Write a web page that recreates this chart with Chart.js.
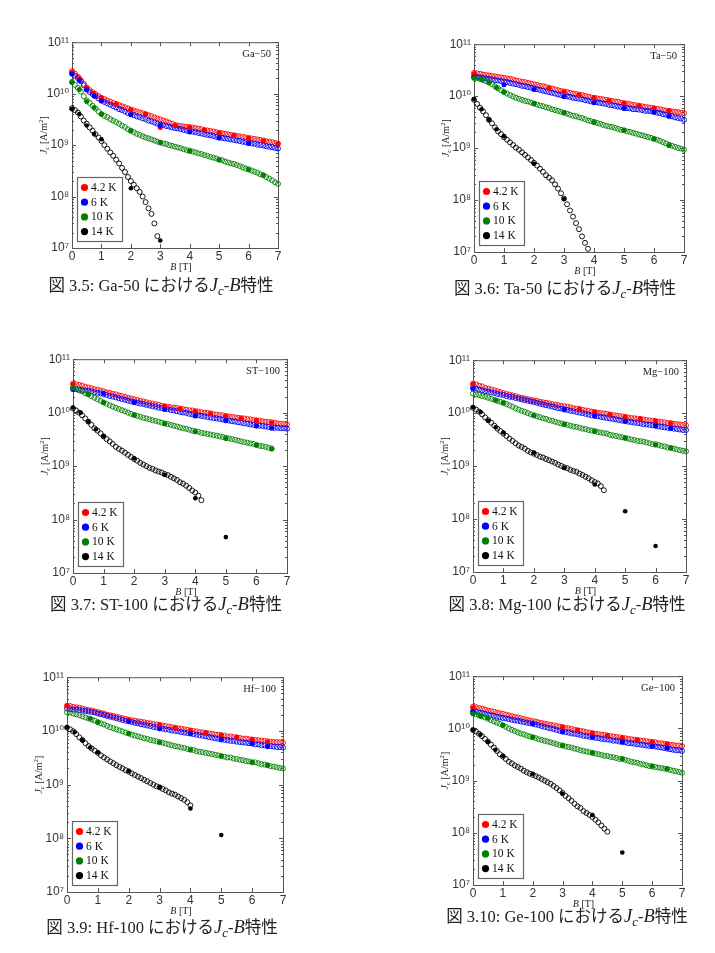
<!DOCTYPE html>
<html>
<head>
<meta charset="utf-8">
<script src="https://cdn.jsdelivr.net/npm/chart.js"></script>
<style>
  body { margin: 0; background: #fff; width: 715px; height: 953px; position: relative; overflow: hidden; }
  canvas { position: absolute; }
  .cap {
    position: absolute; white-space: nowrap; line-height: 1; color: #222;
    font-family: "Liberation Serif", "Noto Sans CJK JP", serif; font-size: 16.5px;
    transform: translate(-50%, -50%);
  }
  .cap i { font-size: 1.12em; }
  .cap sub { font-style: italic; font-size: 0.78em; vertical-align: -0.28em; }
</style>
</head>
<body>
<script>
// field values (T): open circles every 0.1 T, filled dots on a coarse grid
const fieldsFine = [0,0.1,0.2,0.3,0.4,0.5,0.6,0.7,0.8,0.9,1,1.1,1.2,1.3,1.4,1.5,1.6,1.7,1.8,1.9,2,2.1,2.2,2.3,2.4,2.5,2.6,2.7,2.8,2.9,3,3.1,3.2,3.3,3.4,3.5,3.6,3.7,3.8,3.9,4,4.1,4.2,4.3,4.4,4.5,4.6,4.7,4.8,4.9,5,5.1,5.2,5.3,5.4,5.5,5.6,5.7,5.8,5.9,6,6.1,6.2,6.3,6.4,6.5,6.6,6.7,6.8,6.9,7];
const fieldsCoarse = [0,0.25,0.5,0.75,1,1.5,2,2.5,3,3.5,4,4.5,5,5.5,6,6.5,7];

const temperatures = ['4.2 K', '6 K', '10 K', '14 K'];
const sampleNames = ['Ga-50', 'Ta-50', 'ST-100', 'Mg-100', 'Hf-100', 'Ge-100'];
const panelLabels = ['Ga\u221250', 'Ta\u221250', 'ST\u2212100', 'Mg\u2212100', 'Hf\u2212100', 'Ge\u2212100'];
const figureNumbers = ['3.5', '3.6', '3.7', '3.8', '3.9', '3.10'];

const xTickValues = [0, 1, 2, 3, 4, 5, 6, 7];
const yTickValues = [1e7, 1e8, 1e9, 1e10, 1e11];
const yTickLabels = ['10\u2077', '10\u2078', '10\u2079', '10\u00b9\u2070', '10\u00b9\u00b9'];

// Ga-50
const ga50Open42 = [2.75e10,2.45e10,2.14e10,1.82e10,1.55e10,1.32e10,1.17e10,1.07e10,9.8e9,9.0e9,8.3e9,7.85e9,7.4e9,7.0e9,6.6e9,6.3e9,6.0e9,5.7e9,5.45e9,5.15e9,4.9e9,4.7e9,4.5e9,4.3e9,4.15e9,4.0e9,3.8e9,3.65e9,3.45e9,3.3e9,3.15e9,3.0e9,2.9e9,2.75e9,2.6e9,2.45e9,2.4e9,2.35e9,2.3e9,2.27e9,2.24e9,2.19e9,2.14e9,2.09e9,2.04e9,1.97e9,1.93e9,1.88e9,1.84e9,1.78e9,1.74e9,1.7e9,1.66e9,1.62e9,1.58e9,1.55e9,1.51e9,1.48e9,1.45e9,1.41e9,1.38e9,1.35e9,1.32e9,1.29e9,1.26e9,1.23e9,1.19e9,1.16e9,1.14e9,1.1e9,1.07e9];
const ga50Open6 = [2.45e10,2.24e10,2.0e10,1.74e10,1.45e10,1.2e10,1.07e10,9.8e9,8.9e9,8.1e9,7.4e9,6.9e9,6.5e9,6.1e9,5.7e9,5.4e9,5.0e9,4.8e9,4.5e9,4.2e9,4.0e9,3.8e9,3.6e9,3.5e9,3.3e9,3.2e9,3.0e9,2.9e9,2.75e9,2.6e9,2.5e9,2.45e9,2.35e9,2.3e9,2.2e9,2.15e9,2.1e9,2.05e9,1.97e9,1.9e9,1.86e9,1.82e9,1.78e9,1.72e9,1.68e9,1.62e9,1.58e9,1.55e9,1.5e9,1.45e9,1.41e9,1.38e9,1.35e9,1.32e9,1.29e9,1.26e9,1.23e9,1.2e9,1.16e9,1.14e9,1.11e9,1.08e9,1.06e9,1.02e9,1.0e9,9.8e8,9.5e8,9.3e8,9.1e8,8.8e8,8.6e8];
const ga50Open10 = [1.7e10,1.48e10,1.29e10,1.1e10,8.9e9,7.4e9,6.6e9,5.8e9,5.1e9,4.5e9,4.0e9,3.7e9,3.5e9,3.2e9,3.0e9,2.8e9,2.6e9,2.4e9,2.24e9,2.04e9,1.9e9,1.78e9,1.66e9,1.58e9,1.48e9,1.41e9,1.35e9,1.29e9,1.23e9,1.17e9,1.12e9,1.08e9,1.05e9,1.0e9,9.7e8,9.3e8,9.0e8,8.7e8,8.3e8,8.0e8,7.8e8,7.5e8,7.2e8,6.9e8,6.7e8,6.4e8,6.2e8,5.9e8,5.7e8,5.5e8,5.2e8,5.1e8,4.8e8,4.6e8,4.4e8,4.3e8,4.1e8,3.9e8,3.7e8,3.5e8,3.4e8,3.2e8,3.05e8,2.9e8,2.7e8,2.6e8,2.4e8,2.24e8,2.07e8,1.9e8,1.76e8];
const ga50Open14 = [5.2e9,4.8e9,4.3e9,3.6e9,3.0e9,2.6e9,2.2e9,1.9e9,1.62e9,1.41e9,1.2e9,1.0e9,8.5e8,7.2e8,6.2e8,5.2e8,4.4e8,3.6e8,3.0e8,2.4e8,2.0e8,1.7e8,1.45e8,1.23e8,1.0e8,7.8e7,5.9e7,4.6e7,3.0e7,1.7e7];
const ga50Dot42 = [2.6e10,2.0e10,1.3e10,1.0e10,8.3e9,6.2e9,4.8e9,4.0e9,2.2e9,2.4e9,2.2e9,1.95e9,1.72e9,1.53e9,1.36e9,1.2e9,1.07e9];
const ga50Dot6 = [2.4e10,1.8e10,1.2e10,9.0e9,7.2e9,null,3.9e9,null,2.4e9,null,1.8e9,null,1.38e9,null,1.08e9,null,null];
const ga50Dot10 = [1.65e10,1.2e10,7.0e9,5.4e9,4.0e9,null,1.9e9,null,1.12e9,null,7.6e8,null,5.2e8,null,3.3e8,2.6e8,null];
const ga50Dot14 = [5.0e9,4.0e9,2.4e9,1.65e9,1.3e9,null,1.45e8,null,1.4e7];

// Ta-50
const ta50Open42 = [2.8e10,2.75e10,2.7e10,2.6e10,2.55e10,2.5e10,2.45e10,2.4e10,2.35e10,2.3e10,2.24e10,2.2e10,2.14e10,2.1e10,2.0e10,1.95e10,1.9e10,1.86e10,1.8e10,1.74e10,1.7e10,1.64e10,1.58e10,1.55e10,1.5e10,1.45e10,1.4e10,1.35e10,1.3e10,1.26e10,1.23e10,1.2e10,1.16e10,1.12e10,1.1e10,1.07e10,1.05e10,1.01e10,9.8e9,9.5e9,9.3e9,9.1e9,8.9e9,8.7e9,8.5e9,8.3e9,8.1e9,7.9e9,7.8e9,7.5e9,7.3e9,7.2e9,7.0e9,6.8e9,6.7e9,6.5e9,6.4e9,6.2e9,6.1e9,6.0e9,5.8e9,5.7e9,5.6e9,5.4e9,5.3e9,5.2e9,5.1e9,5.0e9,4.9e9,4.8e9,4.7e9];
const ta50Open6 = [2.4e10,2.35e10,2.3e10,2.24e10,2.2e10,2.14e10,2.1e10,2.04e10,2.0e10,1.95e10,1.9e10,1.86e10,1.8e10,1.74e10,1.7e10,1.64e10,1.58e10,1.55e10,1.5e10,1.45e10,1.41e10,1.36e10,1.32e10,1.27e10,1.23e10,1.2e10,1.16e10,1.12e10,1.08e10,1.05e10,1.02e10,9.9e9,9.7e9,9.3e9,9.1e9,8.9e9,8.7e9,8.4e9,8.2e9,7.9e9,7.8e9,7.6e9,7.4e9,7.2e9,7.1e9,6.8e9,6.7e9,6.5e9,6.3e9,6.2e9,6.0e9,5.9e9,5.8e9,5.6e9,5.6e9,5.5e9,5.4e9,5.2e9,5.2e9,5.1e9,5.0e9,4.8e9,4.7e9,4.5e9,4.4e9,4.2e9,4.1e9,3.9e9,3.8e9,3.7e9,3.5e9];
const ta50Open10 = [2.3e10,2.24e10,2.14e10,2.04e10,1.95e10,1.86e10,1.7e10,1.55e10,1.41e10,1.3e10,1.2e10,1.12e10,1.05e10,9.9e9,9.3e9,8.9e9,8.5e9,8.1e9,7.9e9,7.5e9,7.2e9,6.9e9,6.6e9,6.4e9,6.1e9,5.9e9,5.6e9,5.4e9,5.2e9,5.0e9,4.8e9,4.6e9,4.4e9,4.2e9,4.1e9,3.9e9,3.8e9,3.6e9,3.4e9,3.3e9,3.2e9,3.05e9,2.95e9,2.8e9,2.7e9,2.6e9,2.55e9,2.45e9,2.35e9,2.25e9,2.2e9,2.1e9,2.05e9,1.97e9,1.9e9,1.82e9,1.76e9,1.7e9,1.64e9,1.58e9,1.51e9,1.45e9,1.38e9,1.3e9,1.23e9,1.16e9,1.11e9,1.06e9,1.01e9,9.8e8,9.3e8];
const ta50Open14 = [8.5e9,7.1e9,6.0e9,5.1e9,4.3e9,3.5e9,3.0e9,2.5e9,2.1e9,1.86e9,1.62e9,1.45e9,1.29e9,1.15e9,1.02e9,9.3e8,8.3e8,7.4e8,6.6e8,5.9e8,5.2e8,4.6e8,4.0e8,3.5e8,3.0e8,2.7e8,2.4e8,2.0e8,1.66e8,1.35e8,1.07e8,8.3e7,6.3e7,4.8e7,3.6e7,2.75e7,2.0e7,1.5e7,1.15e7];
const ta50Dot42 = [2.7e10,null,null,null,null,null,null,1.4e10,1.2e10,1.05e10,9.2e9,8.2e9,7.3e9,6.5e9,5.9e9,5.3e9,null];
const ta50Dot6 = [2.3e10,null,null,null,1.65e10,null,1.35e10,null,9.7e9,null,7.5e9,null,5.8e9,null,4.9e9,4.1e9,null];
const ta50Dot10 = [2.2e10,2.1e10,1.8e10,1.46e10,1.2e10,null,7.2e9,null,4.8e9,null,3.1e9,null,2.2e9,null,1.5e9,1.12e9,null];
const ta50Dot14 = [8.8e9,5.6e9,3.5e9,2.3e9,1.7e9,null,5.0e8,null,1.05e8];

// ST-100
const st100Open42 = [3.5e10,3.4e10,3.3e10,3.2e10,3.05e10,2.95e10,2.85e10,2.75e10,2.7e10,2.6e10,2.5e10,2.4e10,2.35e10,2.25e10,2.2e10,2.1e10,2.05e10,1.97e10,1.9e10,1.84e10,1.78e10,1.72e10,1.66e10,1.62e10,1.57e10,1.51e10,1.48e10,1.43e10,1.4e10,1.35e10,1.32e10,1.29e10,1.26e10,1.24e10,1.22e10,1.19e10,1.16e10,1.14e10,1.11e10,1.1e10,1.07e10,1.05e10,1.02e10,1.0e10,9.9e9,9.7e9,9.4e9,9.2e9,9.0e9,8.9e9,8.7e9,8.5e9,8.3e9,8.2e9,8.0e9,7.9e9,7.8e9,7.6e9,7.5e9,7.3e9,7.2e9,7.1e9,6.9e9,6.8e9,6.7e9,6.6e9,6.5e9,6.3e9,6.2e9,6.1e9,6.0e9];
const st100Open6 = [2.8e10,2.75e10,2.7e10,2.65e10,2.6e10,2.55e10,2.5e10,2.4e10,2.35e10,2.3e10,2.2e10,2.14e10,2.05e10,2.0e10,1.93e10,1.86e10,1.8e10,1.74e10,1.68e10,1.62e10,1.58e10,1.53e10,1.48e10,1.45e10,1.4e10,1.36e10,1.32e10,1.29e10,1.24e10,1.22e10,1.19e10,1.15e10,1.12e10,1.1e10,1.06e10,1.03e10,1.01e10,9.9e9,9.5e9,9.3e9,9.1e9,8.9e9,8.7e9,8.5e9,8.3e9,8.1e9,7.9e9,7.8e9,7.6e9,7.4e9,7.2e9,7.1e9,6.9e9,6.8e9,6.6e9,6.5e9,6.3e9,6.2e9,6.0e9,5.9e9,5.8e9,5.7e9,5.6e9,5.5e9,5.4e9,5.3e9,5.2e9,5.2e9,5.1e9,5.1e9,5.0e9];
const st100Open10 = [2.95e10,2.8e10,2.6e10,2.5e10,2.3e10,2.2e10,2.04e10,1.9e10,1.78e10,1.66e10,1.55e10,1.46e10,1.38e10,1.3e10,1.23e10,1.17e10,1.11e10,1.06e10,1.0e10,9.5e9,9.1e9,8.7e9,8.4e9,8.0e9,7.8e9,7.5e9,7.2e9,7.0e9,6.8e9,6.5e9,6.3e9,6.1e9,5.9e9,5.7e9,5.5e9,5.3e9,5.1e9,5.0e9,4.8e9,4.6e9,4.5e9,4.4e9,4.2e9,4.1e9,4.0e9,3.9e9,3.8e9,3.7e9,3.6e9,3.5e9,3.4e9,3.3e9,3.2e9,3.1e9,3.0e9,2.9e9,2.8e9,2.75e9,2.65e9,2.6e9,2.5e9,2.4e9,2.35e9,2.3e9,2.2e9,2.14e9];
const st100Open14 = [1.2e10,1.1e10,1.0e10,8.9e9,7.8e9,6.8e9,5.9e9,5.1e9,4.6e9,4.1e9,3.6e9,3.2e9,2.9e9,2.6e9,2.3e9,2.1e9,1.95e9,1.78e9,1.62e9,1.48e9,1.35e9,1.26e9,1.15e9,1.07e9,1.0e9,9.3e8,8.9e8,8.3e8,7.9e8,7.6e8,7.1e8,6.8e8,6.3e8,5.9e8,5.5e8,5.0e8,4.7e8,4.3e8,3.9e8,3.5e8,3.2e8,2.8e8,2.3e8];
const st100Dot42 = [3.4e10,null,null,null,null,null,null,null,1.32e10,1.17e10,1.05e10,9.5e9,8.6e9,7.8e9,7.1e9,6.5e9,null];
const st100Dot6 = [2.7e10,null,null,null,2.3e10,null,1.55e10,null,1.15e10,null,8.7e9,null,7.1e9,null,5.6e9,5.1e9,null];
const st100Dot10 = [2.9e10,null,2.2e10,null,1.55e10,null,8.9e9,null,6.2e9,null,4.4e9,null,3.3e9,null,2.45e9,2.1e9,null];
const st100Dot14 = [1.25e10,1.0e10,6.8e9,4.9e9,3.6e9,null,1.4e9,null,6.8e8,null,2.5e8,null,4.7e7];

// Mg-100
const mg100Open42 = [3.6e10,3.5e10,3.3e10,3.2e10,3.0e10,2.9e10,2.8e10,2.7e10,2.6e10,2.5e10,2.4e10,2.3e10,2.24e10,2.16e10,2.1e10,2.0e10,1.95e10,1.9e10,1.84e10,1.78e10,1.74e10,1.7e10,1.64e10,1.6e10,1.57e10,1.53e10,1.48e10,1.45e10,1.41e10,1.38e10,1.35e10,1.32e10,1.29e10,1.24e10,1.22e10,1.19e10,1.16e10,1.12e10,1.1e10,1.07e10,1.05e10,1.02e10,1.0e10,9.9e9,9.7e9,9.4e9,9.2e9,9.0e9,8.8e9,8.7e9,8.5e9,8.3e9,8.1e9,8.0e9,7.9e9,7.8e9,7.6e9,7.4e9,7.3e9,7.2e9,7.1e9,6.9e9,6.8e9,6.7e9,6.5e9,6.5e9,6.3e9,6.2e9,6.1e9,6.0e9,5.9e9];
const mg100Open6 = [3.0e10,2.9e10,2.8e10,2.7e10,2.6e10,2.55e10,2.45e10,2.4e10,2.3e10,2.24e10,2.2e10,2.1e10,2.04e10,2.0e10,1.93e10,1.88e10,1.82e10,1.76e10,1.72e10,1.66e10,1.62e10,1.57e10,1.51e10,1.46e10,1.41e10,1.38e10,1.33e10,1.29e10,1.24e10,1.22e10,1.17e10,1.15e10,1.11e10,1.08e10,1.05e10,1.02e10,1.0e10,9.7e9,9.4e9,9.1e9,8.9e9,8.7e9,8.5e9,8.3e9,8.1e9,7.9e9,7.8e9,7.6e9,7.4e9,7.2e9,7.1e9,6.9e9,6.8e9,6.6e9,6.5e9,6.4e9,6.2e9,6.1e9,6.0e9,5.9e9,5.8e9,5.6e9,5.5e9,5.4e9,5.3e9,5.2e9,5.1e9,5.0e9,4.9e9,4.8e9,4.8e9];
const mg100Open10 = [2.35e10,2.25e10,2.2e10,2.1e10,2.04e10,1.95e10,1.86e10,1.78e10,1.7e10,1.64e10,1.57e10,1.48e10,1.4e10,1.32e10,1.24e10,1.17e10,1.11e10,1.06e10,1.0e10,9.5e9,9.1e9,8.7e9,8.4e9,8.0e9,7.8e9,7.4e9,7.2e9,6.9e9,6.6e9,6.4e9,6.2e9,6.0e9,5.8e9,5.6e9,5.5e9,5.3e9,5.1e9,5.0e9,4.8e9,4.7e9,4.6e9,4.4e9,4.3e9,4.2e9,4.1e9,3.9e9,3.8e9,3.7e9,3.6e9,3.5e9,3.4e9,3.3e9,3.2e9,3.1e9,3.0e9,2.95e9,2.9e9,2.8e9,2.7e9,2.6e9,2.6e9,2.5e9,2.4e9,2.35e9,2.25e9,2.2e9,2.14e9,2.07e9,2.0e9,1.95e9,1.9e9];
const mg100Open14 = [1.26e10,1.17e10,1.07e10,9.5e9,8.3e9,7.4e9,6.6e9,5.8e9,5.1e9,4.6e9,4.1e9,3.7e9,3.3e9,3.0e9,2.7e9,2.45e9,2.3e9,2.14e9,1.95e9,1.82e9,1.72e9,1.62e9,1.51e9,1.45e9,1.36e9,1.29e9,1.22e9,1.15e9,1.07e9,1.01e9,9.5e8,9.1e8,8.5e8,8.1e8,7.8e8,7.2e8,6.8e8,6.3e8,5.9e8,5.4e8,5.0e8,4.7e8,4.2e8,3.5e8];
const mg100Dot42 = [3.5e10,null,null,null,null,null,null,null,null,1.2e10,1.05e10,9.4e9,8.5e9,7.8e9,7.1e9,6.4e9,null];
const mg100Dot6 = [2.9e10,null,null,null,null,null,null,null,1.17e10,null,8.8e9,null,7.0e9,null,5.7e9,5.2e9,null];
const mg100Dot10 = [null,null,null,1.75e10,1.55e10,null,9.0e9,null,6.1e9,null,4.5e9,null,3.4e9,null,2.5e9,2.2e9,null];
const mg100Dot14 = [1.3e10,1.05e10,7.2e9,5.4e9,4.3e9,null,1.8e9,null,9.2e8,null,4.5e8,null,1.4e8,null,3.1e7];

// Hf-100
const hf100Open42 = [2.95e10,2.9e10,2.8e10,2.75e10,2.7e10,2.6e10,2.5e10,2.45e10,2.4e10,2.3e10,2.24e10,2.16e10,2.1e10,2.0e10,1.95e10,1.9e10,1.84e10,1.78e10,1.72e10,1.68e10,1.62e10,1.58e10,1.55e10,1.51e10,1.48e10,1.45e10,1.41e10,1.38e10,1.35e10,1.32e10,1.29e10,1.26e10,1.23e10,1.2e10,1.17e10,1.15e10,1.12e10,1.1e10,1.07e10,1.05e10,1.02e10,1.0e10,9.8e9,9.5e9,9.4e9,9.2e9,9.0e9,8.8e9,8.6e9,8.5e9,8.3e9,8.1e9,7.9e9,7.9e9,7.7e9,7.6e9,7.4e9,7.2e9,7.2e9,7.0e9,6.9e9,6.8e9,6.7e9,6.6e9,6.5e9,6.4e9,6.3e9,6.2e9,6.2e9,6.1e9,6.0e9];
const hf100Open6 = [2.6e10,2.55e10,2.5e10,2.5e10,2.45e10,2.4e10,2.35e10,2.3e10,2.24e10,2.2e10,2.1e10,2.04e10,1.97e10,1.9e10,1.84e10,1.78e10,1.72e10,1.66e10,1.6e10,1.55e10,1.51e10,1.46e10,1.41e10,1.38e10,1.33e10,1.3e10,1.26e10,1.23e10,1.19e10,1.16e10,1.12e10,1.1e10,1.07e10,1.05e10,1.02e10,1.0e10,9.8e9,9.5e9,9.3e9,9.1e9,8.9e9,8.7e9,8.5e9,8.3e9,8.1e9,7.9e9,7.7e9,7.5e9,7.3e9,7.1e9,6.9e9,6.8e9,6.7e9,6.5e9,6.5e9,6.3e9,6.2e9,6.1e9,6.0e9,5.9e9,5.8e9,5.6e9,5.6e9,5.4e9,5.4e9,5.2e9,5.2e9,5.1e9,5.0e9,5.0e9,4.9e9];
const hf100Open10 = [2.24e10,2.2e10,2.1e10,2.04e10,1.95e10,1.86e10,1.78e10,1.7e10,1.62e10,1.55e10,1.46e10,1.38e10,1.32e10,1.24e10,1.17e10,1.12e10,1.07e10,1.02e10,9.8e9,9.3e9,8.9e9,8.5e9,8.2e9,7.9e9,7.6e9,7.3e9,7.1e9,6.8e9,6.6e9,6.4e9,6.2e9,6.0e9,5.8e9,5.6e9,5.4e9,5.2e9,5.1e9,4.9e9,4.8e9,4.6e9,4.5e9,4.4e9,4.2e9,4.1e9,4.0e9,3.9e9,3.8e9,3.7e9,3.6e9,3.5e9,3.4e9,3.3e9,3.2e9,3.2e9,3.05e9,3.0e9,2.9e9,2.85e9,2.75e9,2.7e9,2.6e9,2.6e9,2.5e9,2.4e9,2.35e9,2.3e9,2.2e9,2.16e9,2.1e9,2.04e9,2.0e9];
const hf100Open14 = [1.15e10,1.07e10,9.8e9,8.7e9,7.6e9,6.8e9,5.9e9,5.2e9,4.7e9,4.3e9,3.9e9,3.5e9,3.2e9,2.95e9,2.7e9,2.5e9,2.3e9,2.14e9,2.0e9,1.86e9,1.74e9,1.62e9,1.51e9,1.41e9,1.32e9,1.23e9,1.15e9,1.07e9,1.0e9,9.3e8,8.9e8,8.3e8,7.8e8,7.2e8,6.8e8,6.5e8,6.0e8,5.6e8,5.2e8,4.7e8,4.1e8];
const hf100Dot42 = [2.9e10,null,null,null,null,null,1.6e10,null,1.3e10,1.12e10,1.02e10,9.2e9,8.4e9,7.6e9,6.9e9,6.3e9,null];
const hf100Dot6 = [null,null,null,null,null,null,1.5e10,null,1.1e10,null,8.9e9,null,7.0e9,null,5.8e9,5.1e9,null];
const hf100Dot10 = [null,null,null,1.7e10,1.45e10,null,8.9e9,null,6.1e9,null,4.4e9,null,3.4e9,null,2.6e9,2.3e9,null];
const hf100Dot14 = [1.17e10,9.5e9,6.7e9,4.9e9,4.0e9,null,1.8e9,null,8.9e8,null,3.6e8,null,1.15e8];

// Ge-100
const ge100Open42 = [2.6e10,2.55e10,2.45e10,2.4e10,2.3e10,2.2e10,2.14e10,2.1e10,2.0e10,1.95e10,1.9e10,1.84e10,1.78e10,1.72e10,1.66e10,1.62e10,1.57e10,1.51e10,1.46e10,1.41e10,1.38e10,1.35e10,1.3e10,1.27e10,1.23e10,1.2e10,1.17e10,1.15e10,1.11e10,1.08e10,1.06e10,1.02e10,1.0e10,9.8e9,9.4e9,9.2e9,9.0e9,8.8e9,8.5e9,8.3e9,8.1e9,7.9e9,7.8e9,7.6e9,7.5e9,7.3e9,7.2e9,7.0e9,6.8e9,6.8e9,6.6e9,6.5e9,6.3e9,6.2e9,6.1e9,6.0e9,5.9e9,5.8e9,5.7e9,5.6e9,5.5e9,5.4e9,5.2e9,5.2e9,5.1e9,5.0e9,4.9e9,4.8e9,4.7e9,4.7e9,4.6e9];
const ge100Open6 = [2.14e10,2.1e10,2.0e10,1.95e10,1.9e10,1.84e10,1.78e10,1.74e10,1.68e10,1.62e10,1.58e10,1.55e10,1.51e10,1.46e10,1.43e10,1.4e10,1.36e10,1.32e10,1.29e10,1.26e10,1.23e10,1.19e10,1.15e10,1.11e10,1.07e10,1.03e10,1.0e10,9.7e9,9.3e9,9.0e9,8.7e9,8.5e9,8.3e9,8.0e9,7.9e9,7.7e9,7.5e9,7.2e9,7.1e9,6.9e9,6.8e9,6.6e9,6.5e9,6.3e9,6.2e9,6.1e9,6.0e9,5.8e9,5.8e9,5.6e9,5.5e9,5.4e9,5.2e9,5.2e9,5.1e9,5.0e9,4.9e9,4.8e9,4.7e9,4.6e9,4.6e9,4.5e9,4.4e9,4.3e9,4.2e9,4.1e9,4.0e9,3.9e9,3.8e9,3.8e9,3.7e9];
const ge100Open10 = [1.95e10,1.86e10,1.78e10,1.7e10,1.62e10,1.53e10,1.45e10,1.36e10,1.29e10,1.22e10,1.15e10,1.07e10,1.0e10,9.4e9,8.9e9,8.4e9,8.0e9,7.7e9,7.3e9,7.0e9,6.8e9,6.5e9,6.2e9,6.0e9,5.8e9,5.6e9,5.4e9,5.2e9,5.0e9,4.8e9,4.7e9,4.5e9,4.4e9,4.3e9,4.1e9,4.0e9,3.8e9,3.7e9,3.6e9,3.5e9,3.4e9,3.3e9,3.2e9,3.1e9,3.0e9,2.95e9,2.85e9,2.8e9,2.7e9,2.6e9,2.6e9,2.5e9,2.4e9,2.3e9,2.24e9,2.2e9,2.1e9,2.04e9,1.97e9,1.9e9,1.86e9,1.82e9,1.78e9,1.74e9,1.7e9,1.66e9,1.6e9,1.55e9,1.51e9,1.46e9,1.41e9];
const ge100Open14 = [9.3e9,8.7e9,7.9e9,7.1e9,6.3e9,5.6e9,4.9e9,4.3e9,3.7e9,3.2e9,2.9e9,2.6e9,2.3e9,2.14e9,1.95e9,1.82e9,1.7e9,1.55e9,1.45e9,1.36e9,1.29e9,1.22e9,1.15e9,1.07e9,1.0e9,9.3e8,8.7e8,7.9e8,7.2e8,6.5e8,5.8e8,5.1e8,4.6e8,4.1e8,3.6e8,3.2e8,3.0e8,2.6e8,2.4e8,2.2e8,2.0e8,1.78e8,1.58e8,1.38e8,1.2e8,1.05e8];
const ge100Dot42 = [2.5e10,null,null,null,null,null,null,null,1.05e10,9.3e9,8.1e9,7.3e9,6.6e9,6.0e9,5.5e9,5.0e9,null];
const ge100Dot6 = [2.1e10,null,null,null,null,null,1.23e10,null,8.6e9,null,6.8e9,null,5.5e9,null,4.5e9,4.2e9,null];
const ge100Dot10 = [1.9e10,1.7e10,1.6e10,null,1.15e10,null,6.8e9,null,4.7e9,null,3.4e9,null,2.6e9,null,1.9e9,1.7e9,null];
const ge100Dot14 = [9.4e9,7.6e9,5.5e9,3.9e9,3.0e9,null,1.35e9,null,5.6e8,null,2.2e8,null,4.2e7];

const openSeries = [
  [ga50Open42, ga50Open6, ga50Open10, ga50Open14],
  [ta50Open42, ta50Open6, ta50Open10, ta50Open14],
  [st100Open42, st100Open6, st100Open10, st100Open14],
  [mg100Open42, mg100Open6, mg100Open10, mg100Open14],
  [hf100Open42, hf100Open6, hf100Open10, hf100Open14],
  [ge100Open42, ge100Open6, ge100Open10, ge100Open14]
];
const dotSeries = [
  [ga50Dot42, ga50Dot6, ga50Dot10, ga50Dot14],
  [ta50Dot42, ta50Dot6, ta50Dot10, ta50Dot14],
  [st100Dot42, st100Dot6, st100Dot10, st100Dot14],
  [mg100Dot42, mg100Dot6, mg100Dot10, mg100Dot14],
  [hf100Dot42, hf100Dot6, hf100Dot10, hf100Dot14],
  [ge100Dot42, ge100Dot6, ge100Dot10, ge100Dot14]
];

// plot area of each panel on the page, and caption centre
const frames = [
  { left: 72,  top: 42,  w: 206, h: 206, capX: 161, capY: 287 },
  { left: 474, top: 44,  w: 210, h: 208, capX: 565, capY: 290 },
  { left: 73,  top: 359, w: 214, h: 214, capX: 166, capY: 606 },
  { left: 473, top: 360, w: 213, h: 212, capX: 567, capY: 606 },
  { left: 67,  top: 677, w: 216, h: 215, capX: 162, capY: 929 },
  { left: 473, top: 676, w: 209, h: 209, capX: 567, capY: 918 }
];

const seriesColors = ['#ff0000', '#0000ff', '#008000', '#000000'];
const serif = '"Liberation Serif", "Times New Roman", serif';
const sans = '"Liberation Sans", "DejaVu Sans", Arial, sans-serif';

function toPoints(xs, ys) {
  return ys.map((v, i) => ({ x: xs[i], y: v })).filter(p => p.y != null);
}

function drawRuns(ctx, runs, cx, cy, angle) {
  ctx.save();
  ctx.translate(cx, cy);
  ctx.rotate(angle);
  ctx.textAlign = 'left';
  ctx.textBaseline = 'alphabetic';
  let total = 0;
  runs.forEach(r => { ctx.font = r.font; r.w = ctx.measureText(r.text).width; total += r.w; });
  let x = -total / 2;
  runs.forEach(r => {
    ctx.font = r.font;
    ctx.fillText(r.text, x, 3.5 + (r.dy || 0));
    x += r.w;
  });
  ctx.restore();
}

// box, inward ticks (with log minor ticks), axis titles, panel name and legend
const framePlugin = {
  id: 'frame',
  beforeDatasetsDraw(chart) {
    const { ctx, chartArea: { left, right, top, bottom }, scales: { x, y } } = chart;
    ctx.save();
    ctx.strokeStyle = '#555';
    ctx.lineWidth = 1;
    ctx.strokeRect(left + 0.5, top + 0.5, right - left, bottom - top);
    ctx.beginPath();
    xTickValues.forEach(v => {
      const px = Math.round(x.getPixelForValue(v)) + 0.5;
      ctx.moveTo(px, bottom); ctx.lineTo(px, bottom - 4);
      ctx.moveTo(px, top); ctx.lineTo(px, top + 4);
    });
    yTickValues.forEach((v, i) => {
      const py = Math.round(y.getPixelForValue(v)) + 0.5;
      ctx.moveTo(left, py); ctx.lineTo(left + 4, py);
      ctx.moveTo(right, py); ctx.lineTo(right - 4, py);
      if (i < yTickValues.length - 1) {
        for (let m = 2; m <= 9; m++) {
          const pm = Math.round(y.getPixelForValue(v * m)) + 0.5;
          ctx.moveTo(left, pm); ctx.lineTo(left + 2, pm);
          ctx.moveTo(right, pm); ctx.lineTo(right - 2, pm);
        }
      }
    });
    ctx.stroke();
    ctx.restore();
  },
  afterDatasetsDraw(chart, args, opts) {
    const { ctx, chartArea: { left, right, top, bottom } } = chart;
    ctx.save();
    ctx.fillStyle = '#222';

    drawRuns(ctx, [
      { text: 'J', font: 'italic 10px ' + serif },
      { text: 'c', font: 'italic 7px ' + serif, dy: 2 },
      { text: ' [A/m', font: '10px ' + serif },
      { text: '2', font: '7px ' + serif, dy: -4 },
      { text: ']', font: '10px ' + serif }
    ], left - 29, (top + bottom) / 2 - 10, -Math.PI / 2);

    drawRuns(ctx, [
      { text: 'B', font: 'italic 10px ' + serif },
      { text: ' [T]', font: '10px ' + serif }
    ], (left + right) / 2 + 6, bottom + 18, 0);

    ctx.font = '10.5px ' + serif;
    ctx.textAlign = 'right';
    ctx.textBaseline = 'middle';
    ctx.fillText(opts.label, right - 7, top + 12);

    const bw = 45, bh = 64;
    const bx = left + 5, by = bottom - 7 - bh;
    ctx.fillStyle = '#fff';
    ctx.fillRect(bx, by, bw, bh);
    ctx.strokeStyle = '#666';
    ctx.lineWidth = 1.2;
    ctx.strokeRect(bx + 0.5, by + 0.5, bw, bh);
    ctx.font = '11.5px ' + serif;
    ctx.textAlign = 'left';
    temperatures.forEach((t, i) => {
      const cy = by + 10.5 + i * 14.7;
      ctx.beginPath();
      ctx.arc(bx + 7.5, cy, 3.6, 0, Math.PI * 2);
      ctx.fillStyle = seriesColors[i];
      ctx.fill();
      ctx.fillStyle = '#111';
      ctx.fillText(t, bx + 14, cy + 0.5);
    });
    ctx.restore();
  }
};

frames.forEach((f, p) => {
  const canvas = document.createElement('canvas');
  canvas.width = f.w + 60;
  canvas.height = f.h + 44;
  canvas.style.left = (f.left - 50) + 'px';
  canvas.style.top = (f.top - 10) + 'px';
  document.body.appendChild(canvas);

  const datasets = [];
  // drawn in reverse order: filled dots end up on top, 4.2 K open circles at the bottom
  for (let k = 3; k >= 0; k--) {
    datasets.push({
      label: temperatures[k] + ' dots',
      data: toPoints(fieldsCoarse, dotSeries[p][k]),
      pointRadius: k === 3 ? 2.3 : 2.5,
      pointBorderWidth: 0,
      backgroundColor: seriesColors[k],
      borderColor: seriesColors[k],
      clip: false
    });
  }
  for (let k = 3; k >= 0; k--) {
    datasets.push({
      label: temperatures[k],
      data: toPoints(fieldsFine, openSeries[p][k]),
      pointRadius: 2.5,
      pointBorderWidth: 0.9,
      backgroundColor: 'rgba(255,255,255,0)',
      borderColor: seriesColors[k],
      clip: false
    });
  }

  new Chart(canvas.getContext('2d'), {
    type: 'scatter',
    data: { datasets },
    options: {
      responsive: false,
      animation: false,
      events: [],
      layout: { padding: { top: 10, right: 10, left: 0, bottom: 0 } },
      plugins: {
        legend: { display: false },
        tooltip: { enabled: false },
        frame: { label: panelLabels[p] }
      },
      scales: {
        x: {
          type: 'linear', min: 0, max: 7,
          grid: { display: false, drawTicks: false }, border: { display: false },
          afterBuildTicks: s => { s.ticks = xTickValues.map(v => ({ value: v })); },
          afterFit: s => { s.height = 34; },
          ticks: { font: { family: sans, size: 12 }, color: '#333', padding: 1, maxRotation: 0, autoSkip: false }
        },
        y: {
          type: 'logarithmic', min: 1e7, max: 1e11,
          grid: { display: false, drawTicks: false }, border: { display: false },
          afterBuildTicks: s => { s.ticks = yTickValues.map(v => ({ value: v })); },
          afterFit: s => { s.width = 50; },
          ticks: {
            font: { family: sans, size: 12 }, color: '#333', padding: 3, autoSkip: false,
            callback: (v, i) => yTickLabels[i]
          }
        }
      }
    },
    plugins: [framePlugin]
  });

  const cap = document.createElement('div');
  cap.className = 'cap';
  cap.style.left = f.capX + 'px';
  cap.style.top = f.capY + 'px';
  cap.innerHTML = '図 ' + figureNumbers[p] + ': ' + sampleNames[p] + ' における<i>J</i><sub>c</sub>-<i>B</i>特性';
  document.body.appendChild(cap);
});
</script>
</body>
</html>
